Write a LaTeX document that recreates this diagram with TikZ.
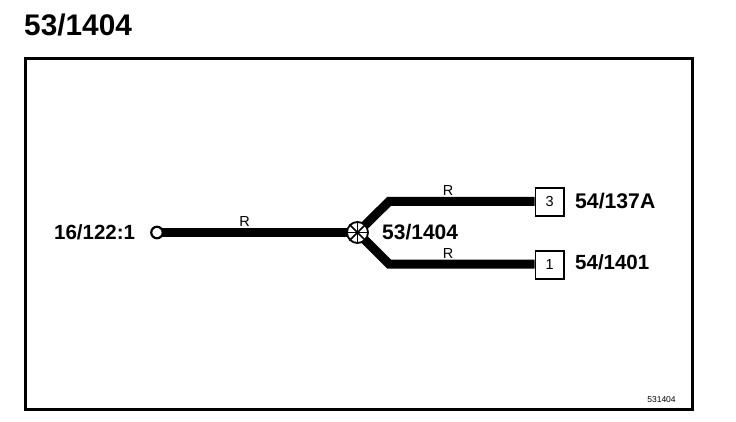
\documentclass[tikz,border=0pt]{standalone}
\usepackage{fontspec}
\setmainfont{Liberation Sans}
\newcommand{\fsz}[1]{\fontsize{#1}{#1}\selectfont}
\begin{document}
\begin{tikzpicture}[x=1pt,y=-1pt,
  wire/.style={line width=9pt,line join=miter},
  mainwire/.style={line width=9.5pt},
  lab/.style={font=\fsz{20.5}\bfseries,inner sep=0pt,anchor=west},
  wlab/.style={font=\fsz{14.5},inner sep=0pt},
  term/.style={draw,line width=1.8pt,fill=white,minimum size=28.5pt,inner sep=0pt,font=\fsz{14.5}},
  startpt/.style={circle,draw,line width=2.2pt,fill=white,minimum size=11.5pt,inner sep=0pt},
  junction/.style={circle,draw,line width=1.8pt,fill=white,minimum size=21pt,inner sep=0pt}]
\useasboundingbox (0,0) rectangle (736,422);
\node[font=\fsz{29.8}\bfseries,inner sep=0pt,anchor=west] (title) at (24,25) {53/1404};
\node[draw,line width=3pt,minimum width=667pt,minimum height=351pt,inner sep=0pt,anchor=north west] (frame) at (24,57) {};
\coordinate (up) at (389,201.5);
\coordinate (dn) at (389,264);
\coordinate (jc) at (357.5,232.5);
\coordinate (sc) at (157,232.5);
\node[term,anchor=west] (t3) at (534.5,202) {3};
\node[term,anchor=west] (t1) at (534.5,265) {1};
\draw[mainwire] (sc) -- (jc);
\draw[wire] (jc) -- (up) -- (up -| t3.west);
\draw[wire] (jc) -- (dn) -- (dn -| t1.west);
\node[term,anchor=west] at (t3.west) {3};
\node[term,anchor=west] at (t1.west) {1};
\node[startpt] (s) at (sc) {};
\node[junction] (j) at (jc) {};
\foreach \a in {0,45,...,315} \draw[line width=1.5pt] (j.center) -- (j.\a);
\node[lab] (l0) at (54,232.5) {16/122:1};
\node[lab,font=\fsz{21}\bfseries] (l1) at (382,232.5) {53/1404};
\node[lab,font=\fsz{21.2}\bfseries] (l3) at (575,201.5) {54/137A};
\node[lab] (l4) at (575,262.5) {54/1401};
\node[wlab] (r1) at (244.5,221.5) {R};
\node[wlab] (r2) at (448,190.5) {R};
\node[wlab] (r3) at (448,253.5) {R};
\node[font=\fsz{8.5},inner sep=0pt] (code) at (661.5,399.5) {531404};
\end{tikzpicture}
\end{document}
